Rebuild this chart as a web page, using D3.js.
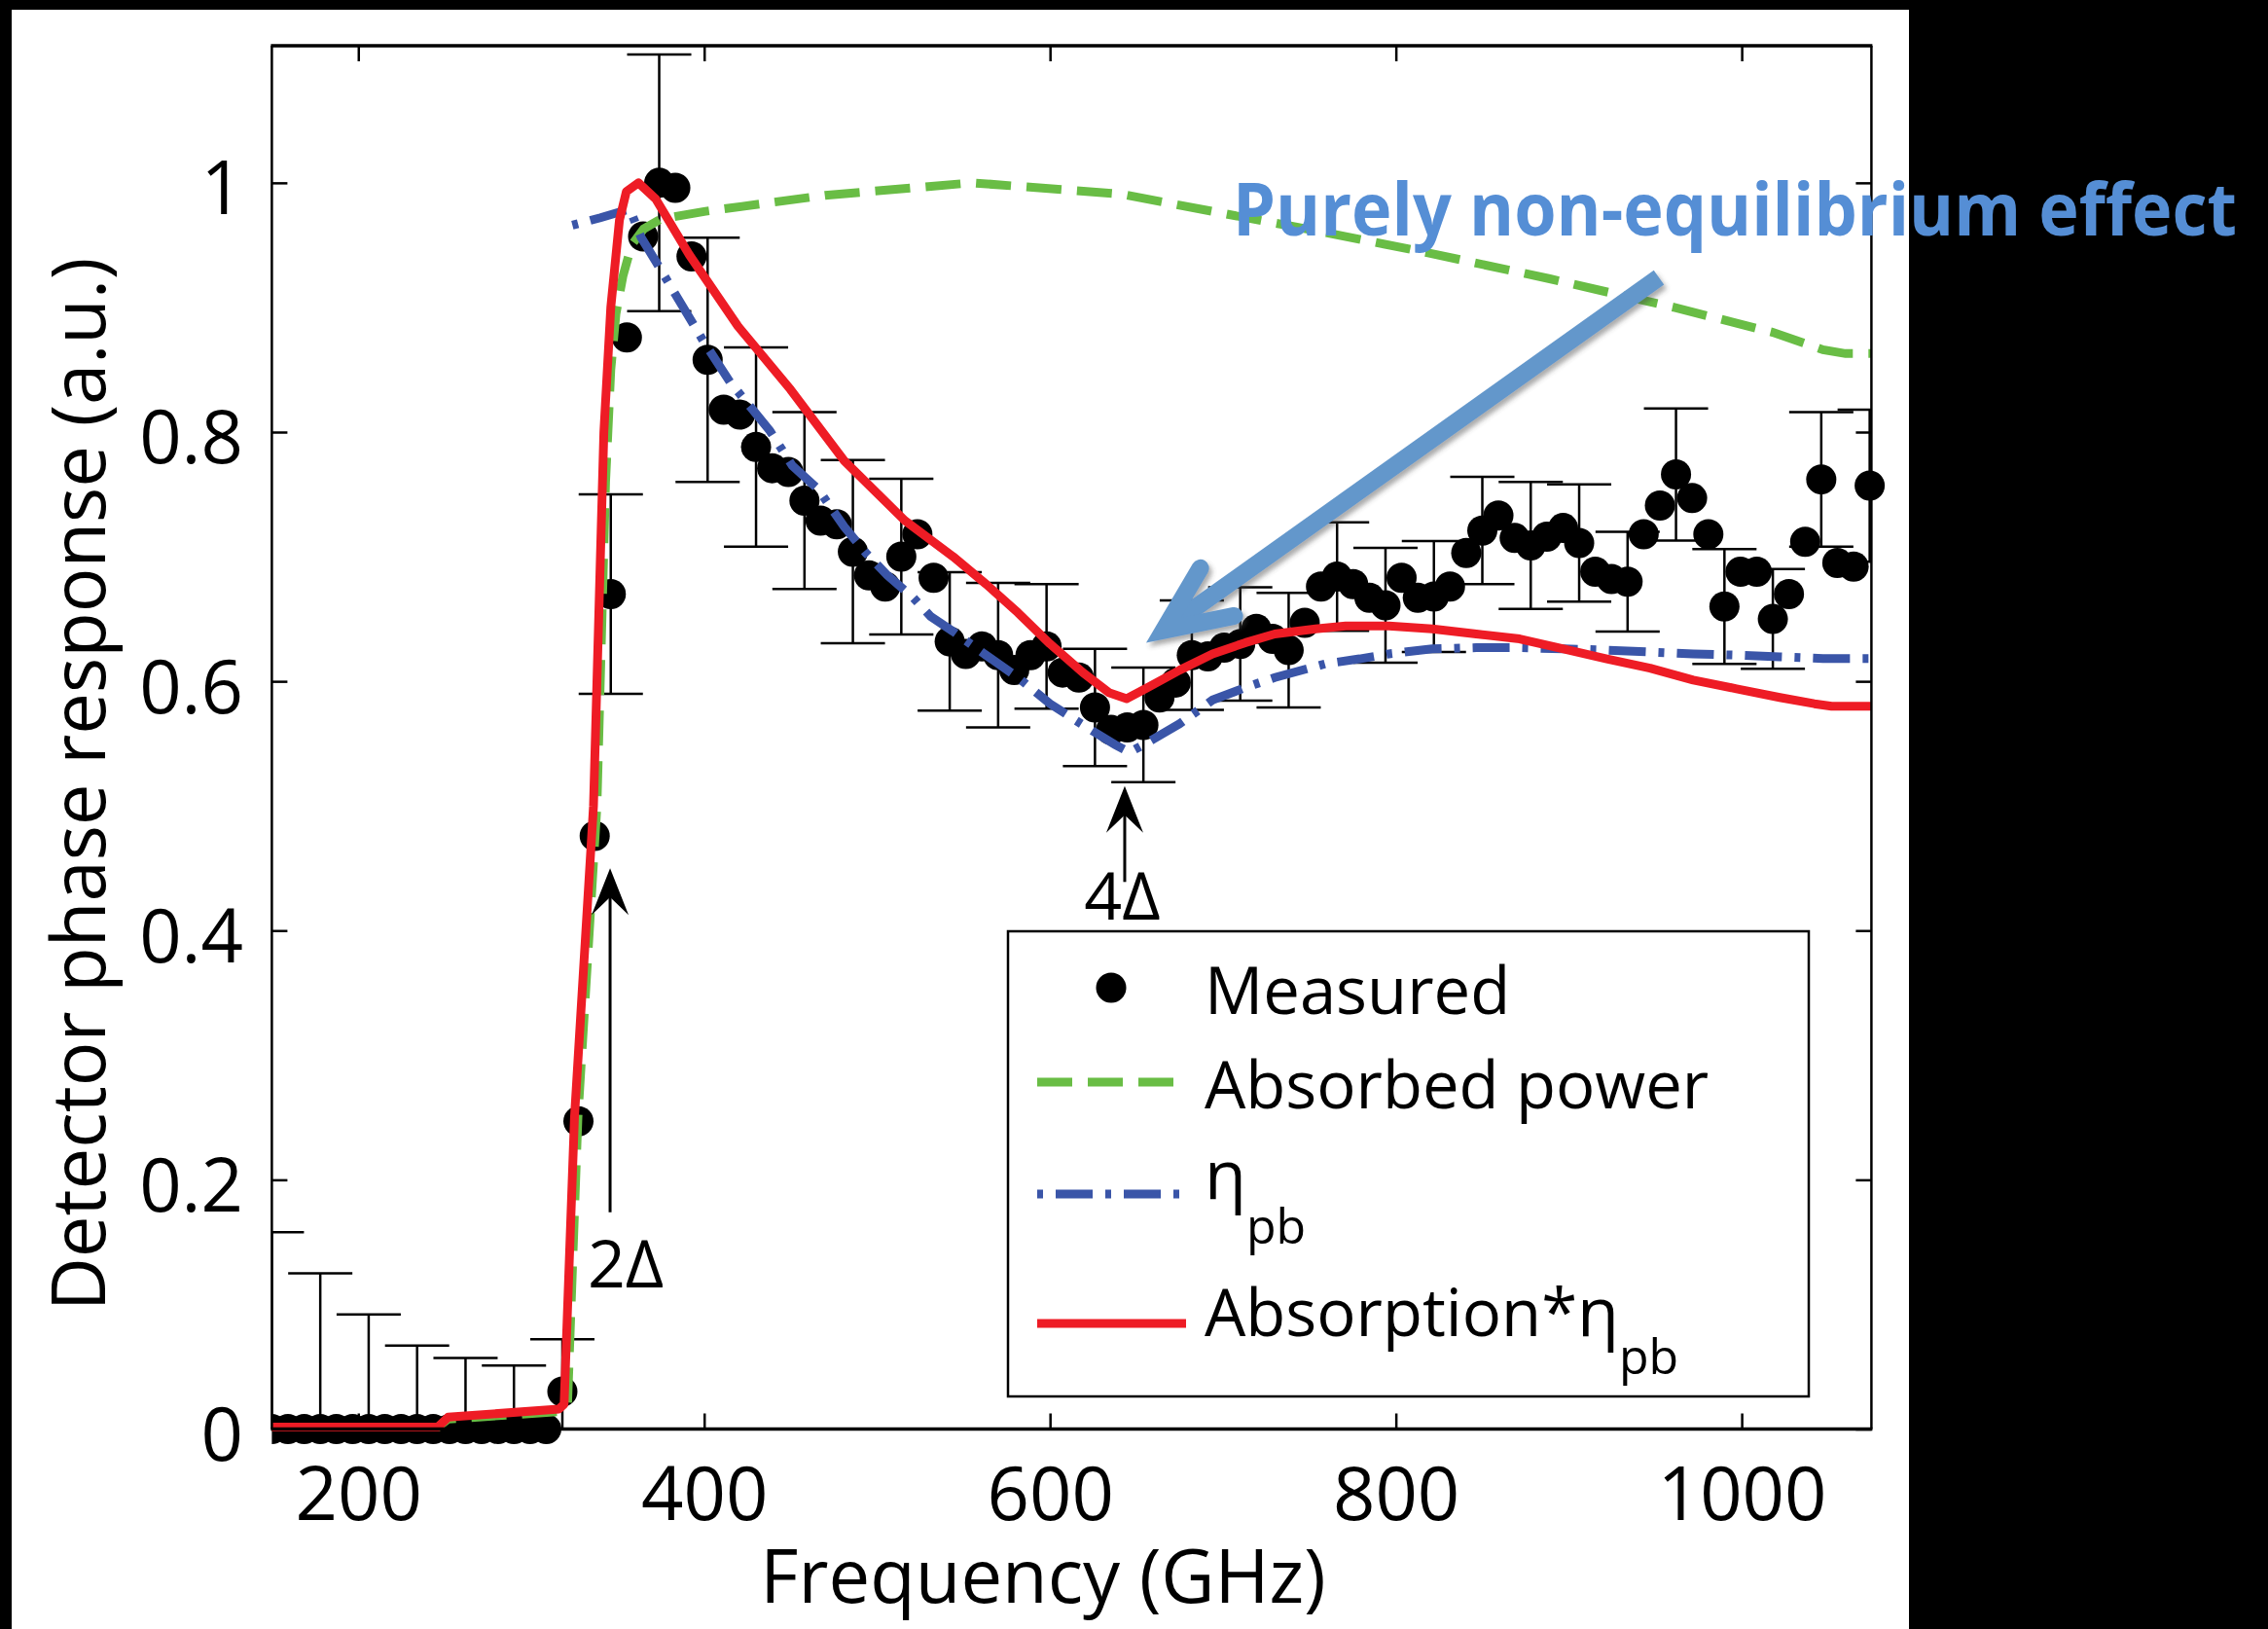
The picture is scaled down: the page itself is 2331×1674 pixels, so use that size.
<!DOCTYPE html>
<html>
<head>
<meta charset="utf-8">
<script src="https://cdn.jsdelivr.net/npm/d3@7"></script>
<style>
  html, body { margin: 0; padding: 0; background: #000; }
  svg { display: block; }
  text { font-family: "Open Sans", "Noto Sans", "DejaVu Sans", sans-serif; }
</style>
</head>
<body>
<svg id="chart" width="2331" height="1674"></svg>
<script>
// ---- Measured detector phase response (GHz, a.u.) ----
const measuredFreq = [150, 159.3, 168.7, 178, 187.3, 196.7, 206, 215.3, 224.7, 234,
  243.3, 252.7, 262, 271.3, 280.7, 290, 299.3, 308.7, 318, 327.3,
  336.7, 346, 355.3, 364.7, 374, 383.3, 392.7, 402, 411.3, 420.7,
  430, 439.3, 448.7, 458, 467.3, 476.7, 486, 495.3, 504.7, 514,
  523.3, 532.7, 542, 551.3, 560.7, 570, 579.3, 588.7, 598, 607.3,
  616.7, 626, 635.3, 644.7, 654, 663.3, 672.7, 682, 691.3, 700.7,
  710, 719.3, 728.7, 738, 747.3, 756.7, 766, 775.3, 784.7, 794,
  803.3, 812.7, 822, 831.3, 840.7, 850, 859.3, 868.7, 878, 887.3,
  896.7, 906, 915.3, 924.7, 934, 943.3, 952.7, 962, 971.3, 980.7,
  990, 999.3, 1008.7, 1018, 1027.3, 1036.7, 1046, 1055.3, 1064.7, 1074];
const measuredVal = [0, 0, 0, 0, 0, 0, 0, 0, 0, 0,
  0, 0, 0, 0, 0, 0, 0, 0, 0.030, 0.247,
  0.476, 0.670, 0.876, 0.957, 1.000, 0.996, 0.941, 0.858, 0.818, 0.814,
  0.788, 0.771, 0.768, 0.745, 0.729, 0.726, 0.704, 0.685, 0.676, 0.700,
  0.718, 0.683, 0.632, 0.622, 0.628, 0.621, 0.609, 0.621, 0.628, 0.607,
  0.603, 0.579, 0.561, 0.563, 0.565, 0.587, 0.599, 0.621, 0.620, 0.627,
  0.630, 0.642, 0.634, 0.625, 0.647, 0.676, 0.684, 0.678, 0.667, 0.661,
  0.683, 0.667, 0.668, 0.676, 0.703, 0.721, 0.733, 0.715, 0.709, 0.716,
  0.723, 0.711, 0.688, 0.682, 0.680, 0.718, 0.741, 0.766, 0.747, 0.718,
  0.660, 0.688, 0.688, 0.650, 0.670, 0.712, 0.762, 0.695, 0.692, 0.757];

// Error bars (every third point), half-width in a.u.
const errFreq = [150, 178, 206, 234, 262, 290, 318, 346, 374, 402,
  430, 458, 486, 514, 542, 570, 598, 626, 654, 682,
  710, 738, 766, 794, 822, 850, 878, 906, 934, 962,
  990, 1018, 1046, 1074];
const errHalf = [0.158, 0.125, 0.092, 0.067, 0.057, 0.051, 0.042, 0.080, 0.103, 0.098,
  0.080, 0.071, 0.0735, 0.0625, 0.0555, 0.058, 0.050, 0.047, 0.046, 0.044,
  0.0455, 0.046, 0.0435, 0.046, 0.0445, 0.043, 0.051, 0.047, 0.040, 0.053,
  0.046, 0.040, 0.054, 0.061];

// ---- Model curves ----
const absorbedFreq = [150, 246, 252, 317, 321, 327, 338, 343, 346, 349, 353, 358, 365, 375, 400,
  470, 555, 641, 698, 756, 818, 889, 961, 1018, 1047, 1060, 1075];
const absorbedVal = [0.0015, 0.0015, 0.008, 0.014, 0.02, 0.25, 0.5, 0.76, 0.85, 0.895, 0.925, 0.95, 0.963, 0.971, 0.977,
  0.990, 1.000, 0.991, 0.976, 0.961, 0.944, 0.923, 0.900, 0.880, 0.866, 0.863, 0.863];

const etaFreq = [323.8, 340, 357, 363.6, 372, 381, 400, 415, 421, 438, 451, 466, 481, 493.5, 506,
  521, 531, 544, 563, 581.5, 600, 619, 637.7, 646, 656.5, 675, 694, 713, 730,
  759, 779, 796, 821, 846.5, 871.6, 897, 922, 947, 972, 997, 1022, 1047, 1075];
const etaVal = [0.966, 0.972, 0.979, 0.956, 0.937, 0.916, 0.872, 0.840, 0.830, 0.801, 0.773, 0.754, 0.724, 0.703, 0.685,
  0.667, 0.652, 0.640, 0.621, 0.603, 0.582, 0.565, 0.549, 0.543, 0.551, 0.566, 0.585, 0.595, 0.603,
  0.614, 0.618, 0.622, 0.626, 0.627, 0.627, 0.626, 0.625, 0.6235, 0.622, 0.621, 0.6196, 0.6183, 0.6183];

const productFreq = [150, 246, 252, 316, 319, 325, 336, 342, 346, 351, 355, 362, 372, 391.5, 419.5,
  450, 481, 516, 544, 563, 581.5, 600, 619, 634, 644.3, 656.5, 675, 694, 713, 730,
  753.6, 771, 796, 821, 846.5, 871.6, 897, 922, 947, 972, 997, 1022, 1042, 1052, 1075];
const productVal = [0.0015, 0.0015, 0.0095, 0.016, 0.02, 0.25, 0.50, 0.80, 0.90, 0.97, 0.993, 1.0, 0.987, 0.942, 0.885,
  0.834, 0.777, 0.729, 0.700, 0.678, 0.655, 0.630, 0.607, 0.591, 0.586, 0.595, 0.609, 0.622, 0.631, 0.638,
  0.642, 0.6444, 0.6444, 0.642, 0.638, 0.634, 0.626, 0.618, 0.6105, 0.601, 0.594, 0.587, 0.582, 0.580, 0.580];

// ---- Axes ----
const xTicks = [200, 400, 600, 800, 1000];
const yTicks = [0, 0.2, 0.4, 0.6, 0.8, 1];
const xTitle = "Frequency (GHz)";
const yTitle = "Detector phase response (a.u.)";

// ---- Annotations (data units) ----
const gapMarks = [
  { label: "2Δ", freq: 345.6, tail: 0.174, tip: 0.450, textFreq: 354.6, textVal: 0.1136 },
  { label: "4Δ", freq: 643.2, tail: 0.439, tip: 0.516, textFreq: 641.8, textVal: 0.409 }
];
const noteText = "Purely non-equilibrium effect";
const notePos = [705.7, 0.958];
const noteArrowFrom = [952.1, 0.924];
const noteArrowTo = [655.6, 0.631];

// ---- Styling ----
const C = {
  green: "#69bd45", blue: "#3a55a8", red: "#ee1c25",
  arrow: "#6497cb", note: "#558ed5"
};
const lineW = 9;

const svg = d3.select("#chart");
const W = 2331, H = 1674;

// page frame
svg.append("rect").attr("width", W).attr("height", H).attr("fill", "#000");
svg.append("rect").attr("x", 12).attr("y", 10).attr("width", 1950).attr("height", H - 10).attr("fill", "#fff");

const plot = { left: 279.4, right: 1923.4, top: 47, bottom: 1468.5 };
const x = d3.scaleLinear().domain([150, 1075]).range([plot.left, plot.right]);
const y = d3.scaleLinear().domain([0, 1.11]).range([plot.bottom, plot.top]);

const defs = svg.append("defs");
defs.append("clipPath").attr("id", "clipPlot").append("rect")
  .attr("x", plot.left).attr("y", plot.top)
  .attr("width", plot.right - plot.left).attr("height", plot.bottom - plot.top);
defs.append("clipPath").attr("id", "clipLines").append("rect")
  .attr("x", plot.left - 4).attr("y", plot.top - 4)
  .attr("width", plot.right - plot.left + 8).attr("height", plot.bottom - plot.top + 8);
defs.append("clipPath").attr("id", "clipDots").append("rect")
  .attr("x", plot.left).attr("y", 0)
  .attr("width", plot.right - plot.left + 40).attr("height", H);
const shadow = defs.append("filter").attr("id", "arrowShadow")
  .attr("x", "-20%").attr("y", "-20%").attr("width", "140%").attr("height", "140%");
shadow.append("feDropShadow").attr("dx", 3).attr("dy", 4).attr("stdDeviation", 2.5)
  .attr("flood-color", "#444").attr("flood-opacity", 0.45);

// ---- Axes: ticks inward on all four sides ----
const fontSize = 76;
const gx = svg.append("g").attr("transform", `translate(0,${plot.bottom})`)
  .call(d3.axisBottom(x).tickValues(xTicks).tickSize(-16).tickPadding(40).tickFormat(d3.format("d")));
const gxt = svg.append("g").attr("transform", `translate(0,${plot.top})`)
  .call(d3.axisTop(x).tickValues(xTicks).tickSize(-16).tickFormat(""));
const gy = svg.append("g").attr("transform", `translate(${plot.left},0)`)
  .call(d3.axisLeft(y).tickValues(yTicks).tickSize(-16).tickPadding(29.4).tickFormat(d3.format("~g")));
const gyr = svg.append("g").attr("transform", `translate(${plot.right},0)`)
  .call(d3.axisRight(y).tickValues(yTicks).tickSize(-16).tickFormat(""));
[gx, gxt, gy, gyr].forEach(g => {
  g.select(".domain").remove();
  g.selectAll(".tick line").attr("stroke", "#000").attr("stroke-width", 2.5);
  g.selectAll("text").attr("fill", "#000").attr("font-size", fontSize)
    .style("font-family", '"Open Sans", sans-serif');
});
gy.selectAll(".tick text").attr("dy", "0.42em");

// ---- Measured: error bars, then markers ----
const capHalf = 33;
const valueAt = f => measuredVal[measuredFreq.findIndex(m => Math.abs(m - f) < 1)];
const eb = svg.append("g").attr("clip-path", "url(#clipPlot)")
  .attr("stroke", "#000").attr("stroke-width", 2.5).attr("fill", "none");
errFreq.forEach((f, i) => {
  const v = valueAt(f), lo = v - errHalf[i], hi = v + errHalf[i];
  const cx = x(f);
  eb.append("line").attr("x1", cx).attr("x2", cx).attr("y1", y(lo)).attr("y2", y(hi));
  eb.append("line").attr("x1", cx - capHalf).attr("x2", cx + capHalf).attr("y1", y(hi)).attr("y2", y(hi));
  eb.append("line").attr("x1", cx - capHalf).attr("x2", cx + capHalf).attr("y1", y(lo)).attr("y2", y(lo));
});
svg.append("g").attr("clip-path", "url(#clipDots)")
  .selectAll("circle").data(measuredFreq.map((f, i) => [f, measuredVal[i]]))
  .join("circle").attr("cx", d => x(d[0])).attr("cy", d => y(d[1])).attr("r", 15.5).attr("fill", "#000");

// ---- Model curves ----
const line = d3.line().x(d => x(d[0])).y(d => y(d[1]));
const curves = svg.append("g").attr("clip-path", "url(#clipLines)").attr("fill", "none");
curves.append("path").datum(absorbedFreq.map((f, i) => [f, absorbedVal[i]]))
  .attr("d", line).attr("stroke", C.green).attr("stroke-width", lineW).attr("stroke-dasharray", "36,16");
curves.append("path").datum(etaFreq.map((f, i) => [f, etaVal[i]]))
  .attr("d", line).attr("stroke", C.blue).attr("stroke-width", lineW).attr("stroke-dasharray", "6,13,38,13");
curves.append("path").datum(productFreq.map((f, i) => [f, productVal[i]]))
  .attr("d", line).attr("stroke", C.red).attr("stroke-width", lineW).attr("stroke-linejoin", "round");

// ---- Plot box ----
const box = svg.append("g").attr("stroke", "#000").attr("fill", "none");
box.append("line").attr("x1", plot.left).attr("x2", plot.left).attr("y1", plot.top).attr("y2", plot.bottom).attr("stroke-width", 2.5);
box.append("line").attr("x1", plot.right).attr("x2", plot.right).attr("y1", plot.top).attr("y2", plot.bottom).attr("stroke-width", 2.5);
box.append("line").attr("x1", plot.left - 1).attr("x2", plot.right + 1).attr("y1", plot.top).attr("y2", plot.top).attr("stroke-width", 3.5);
box.append("line").attr("x1", plot.left - 1).attr("x2", plot.right + 1).attr("y1", plot.bottom).attr("y2", plot.bottom).attr("stroke-width", 3.5);

// ---- Axis titles ----
svg.append("text").attr("x", 1072).attr("y", 1647).attr("text-anchor", "middle")
  .attr("font-size", fontSize).attr("fill", "#000").text(xTitle);
svg.append("text").attr("transform", "translate(108,806) rotate(-90)").attr("text-anchor", "middle")
  .attr("font-size", fontSize).attr("fill", "#000").text(yTitle);

// ---- Gap markers (2Δ, 4Δ) ----
const headLen = 48, headW = 38;
gapMarks.forEach(m => {
  const px = x(m.freq), tipY = y(m.tip), tailY = y(m.tail);
  svg.append("line").attr("x1", px).attr("x2", px).attr("y1", tailY).attr("y2", tipY + headLen * 0.5)
    .attr("stroke", "#000").attr("stroke-width", 3);
  svg.append("path")
    .attr("d", `M${px},${tipY} L${px + headW / 2},${tipY + headLen} L${px},${tipY + headLen * 0.62} L${px - headW / 2},${tipY + headLen} Z`)
    .attr("fill", "#000");
  svg.append("text").attr("x", x(m.textFreq)).attr("y", y(m.textVal)).attr("text-anchor", "middle")
    .attr("font-size", 68).attr("fill", "#000").text(m.label);
});

// ---- Note arrow ----
const tip = [x(noteArrowTo[0]), y(noteArrowTo[1])];
const tail = [x(noteArrowFrom[0]), y(noteArrowFrom[1])];
const ang = Math.atan2(tail[1] - tip[1], tail[0] - tip[0]);
const aw = 18, barbLen = 74, spread = 24 * Math.PI / 180;
const inset = (aw / 2) / Math.sin(spread);
const vtx = [tip[0] + inset * Math.cos(ang), tip[1] + inset * Math.sin(ang)];
const barb = s => [vtx[0] + barbLen * Math.cos(ang + s), vtx[1] + barbLen * Math.sin(ang + s)];
const b1 = barb(-spread), b2 = barb(spread);
const ag = svg.append("g").attr("filter", "url(#arrowShadow)");
ag.append("line").attr("x1", vtx[0] + 6 * Math.cos(ang)).attr("y1", vtx[1] + 6 * Math.sin(ang))
  .attr("x2", tail[0]).attr("y2", tail[1])
  .attr("stroke", C.arrow).attr("stroke-width", aw).attr("stroke-linecap", "butt");
ag.append("path").attr("d", `M${b1[0]},${b1[1]} L${vtx[0]},${vtx[1]} L${b2[0]},${b2[1]}`)
  .attr("fill", "none").attr("stroke", C.arrow).attr("stroke-width", aw)
  .attr("stroke-linecap", "round").attr("stroke-linejoin", "miter").attr("stroke-miterlimit", 6);

svg.append("text").attr("x", x(notePos[0])).attr("y", y(notePos[1]))
  .attr("font-size", 76).attr("font-weight", 700).attr("fill", C.note)
  .attr("textLength", 1032).attr("lengthAdjust", "spacingAndGlyphs").text(noteText);

// ---- Legend ----
const lg = svg.append("g");
lg.append("rect").attr("x", 1036).attr("y", 957).attr("width", 823).attr("height", 478)
  .attr("fill", "#fff").attr("stroke", "#000").attr("stroke-width", 2.5);
const lfs = 67, lx = 1238;
lg.append("circle").attr("cx", 1142).attr("cy", 1015).attr("r", 15.5).attr("fill", "#000");
lg.append("text").attr("x", lx).attr("y", 1042).attr("font-size", lfs).text("Measured");
lg.append("line").attr("x1", 1066).attr("x2", 1207).attr("y1", 1112).attr("y2", 1112)
  .attr("stroke", C.green).attr("stroke-width", lineW).attr("stroke-dasharray", "36,16");
lg.append("text").attr("x", lx).attr("y", 1139).attr("font-size", lfs).text("Absorbed power");
lg.append("line").attr("x1", 1066).attr("x2", 1212).attr("y1", 1227).attr("y2", 1227)
  .attr("stroke", C.blue).attr("stroke-width", lineW).attr("stroke-dasharray", "6,13,38,13");
const t3 = lg.append("text").attr("x", lx).attr("y", 1232).attr("font-size", lfs + 3);
t3.append("tspan").text("η");
t3.append("tspan").attr("dy", 46).attr("font-size", 50).text("pb");
lg.append("line").attr("x1", 1066).attr("x2", 1219).attr("y1", 1360).attr("y2", 1360)
  .attr("stroke", C.red).attr("stroke-width", lineW);
const t4 = lg.append("text").attr("x", lx).attr("y", 1373).attr("font-size", lfs);
t4.append("tspan").text("Absorption*");
t4.append("tspan").attr("font-size", lfs + 3).text("η");
t4.append("tspan").attr("dy", 39).attr("font-size", 50).text("pb");
</script>
</body>
</html>
